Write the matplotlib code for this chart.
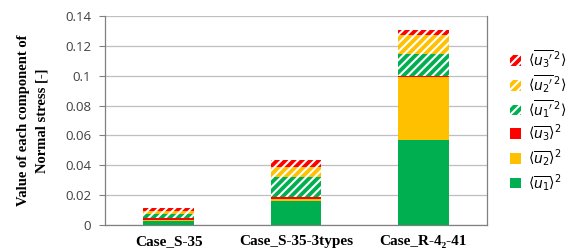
import matplotlib.pyplot as plt
import numpy as np

plt.rcParams['hatch.linewidth'] = 1.5

cases = ["Case_S-35", "Case_S-35-3types", "Case_R-4\u2082-41"]
u1_sq = [0.0029, 0.0163, 0.057]
u2_sq = [0.0003, 0.0010, 0.042]
u3_sq = [0.0013, 0.0013, 0.0010]
u1p_sq = [0.0027, 0.0137, 0.0143]
u2p_sq = [0.0024, 0.0065, 0.0130]
u3p_sq = [0.0020, 0.0046, 0.0030]

green = "#00B050"
yellow = "#FFC000"
red = "#FF0000"

series = [
    (u1_sq, green, "", r"$\langle\overline{u_1}\rangle^2$"),
    (u2_sq, yellow, "", r"$\langle\overline{u_2}\rangle^2$"),
    (u3_sq, red, "", r"$\langle\overline{u_3}\rangle^2$"),
    (u1p_sq, green, "////", r"$\langle\overline{u_1{}'}^{\,2}\rangle$"),
    (u2p_sq, yellow, "////", r"$\langle\overline{u_2{}'}^{\,2}\rangle$"),
    (u3p_sq, red, "////", r"$\langle\overline{u_3{}'}^{\,2}\rangle$"),
]

fig = plt.figure(figsize=(5.68, 2.5), dpi=100)
ax = fig.add_axes([105 / 568, 25 / 250, 382 / 568, 209 / 250])

x = np.arange(len(cases))
bottom = np.zeros(len(cases))
handles = []
for vals, col, hatch, lab in series:
    b = ax.bar(x, vals, 0.4, bottom=bottom, color=col, edgecolor="white",
               linewidth=0, hatch=hatch, label=lab, zorder=3)
    bottom += np.array(vals)
    handles.append(b)

ax.set_xlim(-0.5, 2.5)
ax.set_ylim(0, 0.14)
ax.set_yticks(np.arange(0, 0.1401, 0.02))
ax.set_yticklabels(["0", "0.02", "0.04", "0.06", "0.08", "0.1", "0.12", "0.14"],
                   fontsize=9.5, color="#404040", family="Open Sans")
ax.yaxis.grid(True, color="#BFBFBF", linewidth=0.9, zorder=0)
ax.set_xticks(x)
ax.set_xticklabels(cases, fontsize=11, fontweight="bold", family="Liberation Serif")
ax.tick_params(axis="x", length=0, pad=7)
ax.tick_params(axis="y", length=4, color="#808080", width=0.8, pad=6)

ax.spines["top"].set_visible(False)
for s in ["left", "right", "bottom"]:
    ax.spines[s].set_color("#808080")
    ax.spines[s].set_linewidth(0.9)

ax.set_ylabel("Value of each component of\nNormal stress [-]", fontsize=10.5,
              fontweight="bold", family="Liberation Serif", labelpad=12,
              linespacing=1.5)

fig.legend(handles[::-1], [h.get_label() for h in handles[::-1]],
           loc="upper left", bbox_to_anchor=(497 / 568, 1 - 36 / 250),
           frameon=False, fontsize=10, handlelength=0.8, handleheight=0.8,
           handletextpad=0.5, labelspacing=0.2)

plt.savefig("out.png", dpi=100)
